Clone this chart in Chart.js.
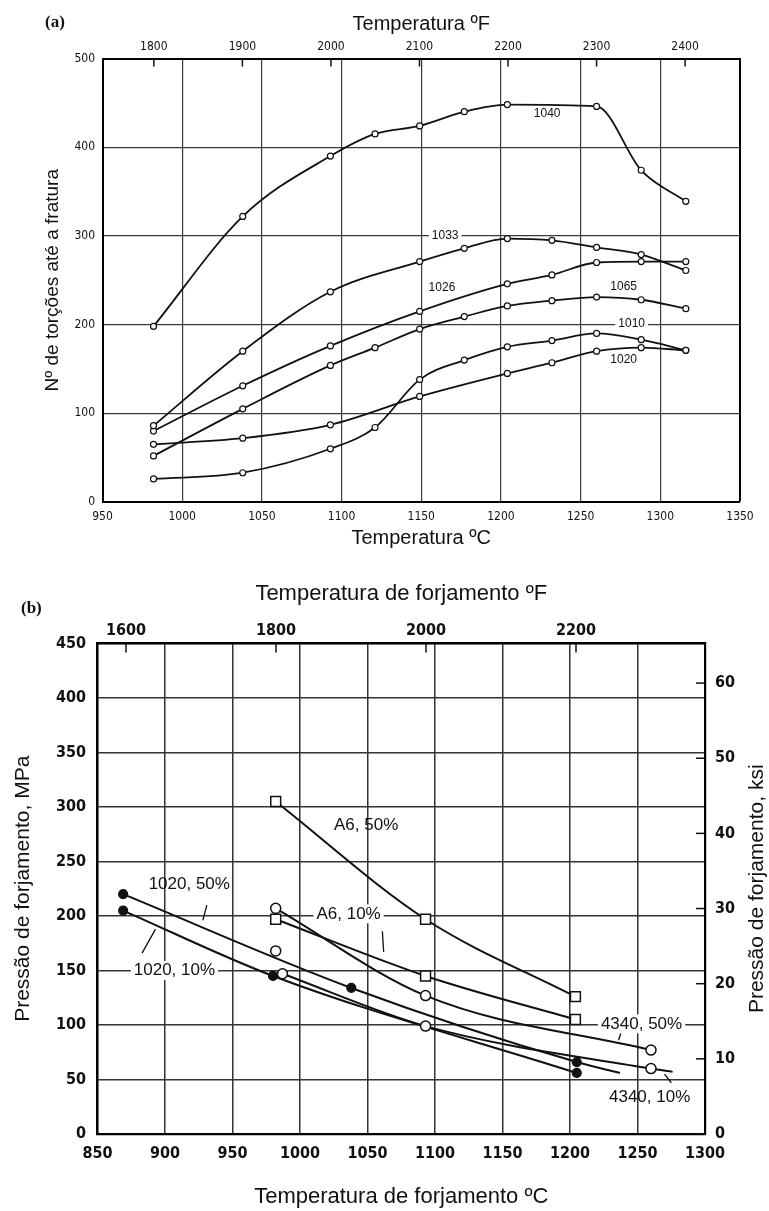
<!DOCTYPE html>
<html lang="pt">
<head>
<meta charset="utf-8">
<title>Torções até a fratura e pressão de forjamento</title>
<script src="https://cdn.jsdelivr.net/npm/chart.js@4.4.1/dist/chart.umd.min.js"></script>
<style>
  body { margin: 0; background: #fff; }
  #page { position: relative; width: 769px; height: 1211px; overflow: hidden; background: #fff; }
  canvas { position: absolute; left: 0; }
  #chartA { top: 0; }
  #chartB { top: 575px; }
  .tag { position: absolute; font: bold 17px 'Liberation Serif', 'DejaVu Serif', serif; color: #111; }
</style>
</head>
<body>
<div id="page">
  <canvas id="chartA" width="769" height="575"></canvas>
  <canvas id="chartB" width="769" height="636"></canvas>
  <div class="tag" style="left:45px; top:12px;">(a)</div>
  <div class="tag" style="left:21px; top:598px;">(b)</div>
</div>
<script>
// ---- (a) torções até a fratura x temperatura (ºC) ----
var t1040 = [982, 1038, 1093, 1121, 1149, 1177, 1204, 1260, 1288, 1316];
var v1040 = [198, 322, 390, 415, 424, 440, 448, 446, 374, 339];
var t1033 = [982, 1038, 1093, 1149, 1177, 1204, 1232, 1260, 1288, 1316];
var v1033 = [86, 170, 237, 271, 286, 297, 295, 287, 279, 261];
var t1026 = [982, 1038, 1093, 1149, 1204, 1232, 1260, 1288, 1316];
var v1026 = [80, 131, 176, 215, 246, 256, 270, 271, 271];
var t1065 = [982, 1038, 1093, 1121, 1149, 1177, 1204, 1232, 1260, 1288, 1316];
var v1065 = [52, 105, 154, 174, 195, 209, 221, 227, 231, 228, 218];
var t1010 = [982, 1038, 1093, 1121, 1149, 1177, 1204, 1232, 1260, 1288, 1316];
var v1010 = [26, 33, 60, 84, 138, 160, 175, 182, 190, 183, 171];
var t1020 = [982, 1038, 1093, 1149, 1204, 1232, 1260, 1288, 1316];
var v1020 = [65, 72, 87, 119, 145, 157, 170, 174, 171];
var ticksFA = [1800, 1900, 2000, 2100, 2200, 2300, 2400];

// ---- (b) pressão de forjamento (MPa) x temperatura (ºC) ----
var tA6_50 = [982, 1093, 1204];
var pA6_50 = [305, 197, 126];
var tA6_10 = [982, 1093, 1204];
var pA6_10 = [197, 145, 105];
var t4340_50 = [982, 1093, 1260];
var p4340_50 = [207, 127, 77];
var t4340_10 = [987, 1093, 1260, 1276];
var p4340_10 = [147, 99, 60, 57];
var t1020_50 = [869, 1038, 1205, 1237];
var p1020_50 = [220, 134, 66, 56];
var t1020_10 = [869, 980, 1205];
var p1020_10 = [205, 145, 56];
var tSolto = [982];
var pSolto = [168];
var ticksFB = [1600, 1800, 2000, 2200];
var ticksKsi = [0, 10, 20, 30, 40, 50, 60];

var INK = '#111';
var NARROW = "'Liberation Sans Narrow', 'DejaVu Sans Condensed', 'Liberation Sans', sans-serif";
var SANS = "'Liberation Sans', Arial, sans-serif";

function pts(ts, vs) {
  return ts.map(function(t, i) { return { x: t, y: vs[i] }; });
}

function curve(label, ts, vs, extra) {
  var ds = {
    label: label,
    data: pts(ts, vs),
    borderColor: INK,
    borderWidth: 1.8,
    pointBackgroundColor: '#fff',
    pointBorderColor: INK,
    pointBorderWidth: 1.2,
    pointRadius: 3,
    cubicInterpolationMode: 'monotone',
    fill: false
  };
  for (var k in extra) ds[k] = extra[k];
  return ds;
}

// rótulos das curvas, desenhados sobre as escalas do gráfico
var curveLabels = {
  id: 'curveLabels',
  afterDatasetsDraw: function(chart, args, opts) {
    var ctx = chart.ctx, xs = chart.scales.x, ys = chart.scales.y;
    ctx.save();
    ctx.strokeStyle = INK;
    ctx.lineWidth = 1.3;
    (opts.leaders || []).forEach(function(l) {
      ctx.beginPath();
      ctx.moveTo(xs.getPixelForValue(l[0]), ys.getPixelForValue(l[1]));
      ctx.lineTo(xs.getPixelForValue(l[2]), ys.getPixelForValue(l[3]));
      ctx.stroke();
    });
    ctx.font = opts.font;
    ctx.textAlign = 'center';
    ctx.textBaseline = 'middle';
    opts.items.forEach(function(it) {
      var px = xs.getPixelForValue(it.x), py = ys.getPixelForValue(it.y);
      if (it.bg) {
        var w = ctx.measureText(it.text).width + 6;
        ctx.fillStyle = '#fff';
        ctx.fillRect(px - w / 2, py - opts.size / 2 - 1, w, opts.size + 2);
      }
      ctx.fillStyle = INK;
      ctx.fillText(it.text, px, py);
    });
    ctx.restore();
  }
};

// marcas das escalas secundárias voltadas para dentro + título da direita
var frameExtras = {
  id: 'frameExtras',
  afterDraw: function(chart, args, opts) {
    var ctx = chart.ctx, area = chart.chartArea;
    ctx.save();
    ctx.strokeStyle = INK;
    ctx.lineWidth = 1.5;
    if (opts.top) {
      var st = chart.scales[opts.top];
      st.ticks.forEach(function(t) {
        var px = st.getPixelForValue(t.value);
        ctx.beginPath();
        ctx.moveTo(px, area.top);
        ctx.lineTo(px, area.top + opts.len);
        ctx.stroke();
      });
    }
    if (opts.right) {
      var sr = chart.scales[opts.right];
      sr.ticks.forEach(function(t) {
        var py = sr.getPixelForValue(t.value);
        ctx.beginPath();
        ctx.moveTo(area.right, py);
        ctx.lineTo(area.right - opts.len, py);
        ctx.stroke();
      });
    }
    if (opts.rightTitle) {
      ctx.translate(opts.rightTitle.x, (area.top + area.bottom) / 2);
      ctx.rotate(-Math.PI / 2);
      ctx.font = opts.rightTitle.font;
      ctx.fillStyle = INK;
      ctx.textAlign = 'center';
      ctx.textBaseline = 'middle';
      ctx.fillText(opts.rightTitle.text, 0, 0);
    }
    ctx.restore();
  }
};

function plain(v) { return String(v); }

// ================= (a) =================
new Chart(document.getElementById('chartA'), {
  type: 'line',
  data: {
    datasets: [
      curve('1040', t1040, v1040),
      curve('1033', t1033, v1033),
      curve('1026', t1026, v1026),
      curve('1065', t1065, v1065),
      curve('1010', t1010, v1010),
      curve('1020', t1020, v1020)
    ]
  },
  options: {
    responsive: false,
    animation: false,
    events: [],
    layout: { padding: { right: 29 } },
    plugins: {
      legend: { display: false },
      tooltip: { enabled: false },
      curveLabels: {
        font: '12px ' + SANS,
        size: 12,
        items: [
          { text: '1040', x: 1229, y: 438 },
          { text: '1033', x: 1165, y: 300, bg: true },
          { text: '1026', x: 1163, y: 242 },
          { text: '1065', x: 1277, y: 243 },
          { text: '1010', x: 1282, y: 201, bg: true },
          { text: '1020', x: 1277, y: 161 }
        ]
      },
      frameExtras: { top: 'xF', len: 8 }
    },
    scales: {
      x: {
        type: 'linear', position: 'bottom', min: 950, max: 1350,
        ticks: { stepSize: 50, padding: 8, autoSkip: false, maxRotation: 0, color: INK,
                 font: { family: NARROW, size: 12 }, callback: plain },
        grid: { drawTicks: false,
                color: function(c) { return c.tick && c.tick.value === 1350 ? '#000' : '#3a3a3a'; },
                lineWidth: function(c) { return c.tick && c.tick.value === 1350 ? 2 : 1.2; } },
        border: { color: '#000', width: 2 },
        title: { display: true, text: 'Temperatura ºC', color: INK,
                 font: { family: SANS, size: 20 }, padding: { top: 0, bottom: 25 } },
        afterFit: function(s) { s.height = 73; }
      },
      xF: {
        type: 'linear', position: 'top', min: 950 * 1.8 + 32, max: 1350 * 1.8 + 32,
        afterBuildTicks: function(s) { s.ticks = ticksFA.map(function(v) { return { value: v }; }); },
        ticks: { padding: 4.5, autoSkip: false, maxRotation: 0, color: INK,
                 font: { family: NARROW, size: 12 }, callback: plain },
        grid: { drawOnChartArea: false, drawTicks: false },
        border: { color: '#000', width: 2 },
        title: { display: true, text: 'Temperatura ºF', color: INK,
                 font: { family: SANS, size: 20 }, padding: { top: 12, bottom: 0 } },
        afterFit: function(s) { s.height = 58.5; }
      },
      y: {
        type: 'linear', min: 0, max: 500,
        ticks: { stepSize: 100, padding: 7.5, color: INK,
                 font: { family: NARROW, size: 12 }, callback: plain },
        grid: { drawTicks: false, color: '#3a3a3a', lineWidth: 1.2 },
        border: { color: '#000', width: 2 },
        title: { display: true, text: 'Nº de torções até a fratura', color: INK,
                 font: { family: SANS, size: 19 }, padding: { top: 41, bottom: 0 } },
        afterFit: function(s) { s.width = 102.5; }
      }
    }
  },
  plugins: [curveLabels, frameExtras]
});

// ================= (b) =================
var openSq = { pointStyle: 'rect', pointRadius: 7, pointBorderWidth: 1.5, borderWidth: 2 };
var openCi = { pointRadius: 5, pointBorderWidth: 1.5, borderWidth: 2 };
var solidCi = { pointRadius: 4.5, pointBackgroundColor: INK, borderWidth: 2 };
var tickFontB = { family: NARROW, size: 16, weight: 'bold' };

new Chart(document.getElementById('chartB'), {
  type: 'line',
  data: {
    datasets: [
      curve('A6, 50%', tA6_50, pA6_50, openSq),
      curve('A6, 10%', tA6_10, pA6_10, openSq),
      curve('4340, 50%', t4340_50, p4340_50, openCi),
      curve('4340, 10%', t4340_10, p4340_10,
            { pointRadius: [5, 5, 5, 0], pointBorderWidth: 1.5, borderWidth: 2 }),
      curve('1020, 50%', t1020_50, p1020_50,
            { pointRadius: [4.5, 4.5, 4.5, 0], pointBackgroundColor: INK, borderWidth: 2 }),
      curve('1020, 10%', t1020_10, p1020_10, solidCi),
      curve('ponto', tSolto, pSolto, { showLine: false, pointRadius: 5, pointBorderWidth: 1.5 })
    ]
  },
  options: {
    responsive: false,
    animation: false,
    events: [],
    layout: { padding: 0 },
    plugins: {
      legend: { display: false },
      tooltip: { enabled: false },
      curveLabels: {
        font: '17px ' + SANS,
        size: 17,
        items: [
          { text: 'A6, 50%', x: 1049, y: 283 },
          { text: 'A6, 10%', x: 1036, y: 202, bg: true },
          { text: '1020, 50%', x: 918, y: 229 },
          { text: '1020, 10%', x: 907, y: 150, bg: true },
          { text: '4340, 50%', x: 1253, y: 101, bg: true },
          { text: '4340, 10%', x: 1259, y: 34 }
        ],
        leaders: [
          [1061, 186, 1062, 167],
          [931, 210, 928, 196],
          [893, 188, 883, 166],
          [1238, 94, 1236, 86],
          [1270, 55, 1275, 47]
        ]
      },
      frameExtras: {
        top: 'xF', right: 'yK', len: 9,
        rightTitle: { text: 'Pressão de forjamento, ksi', x: 757, font: '21px ' + SANS }
      }
    },
    scales: {
      x: {
        type: 'linear', position: 'bottom', min: 850, max: 1300,
        ticks: { stepSize: 50, padding: 10, autoSkip: false, maxRotation: 0, color: INK,
                 font: tickFontB, callback: plain },
        grid: { drawTicks: false, color: '#333', lineWidth: 1.5 },
        border: { color: '#000', width: 2.2 },
        title: { display: true, text: 'Temperatura de forjamento ºC', color: INK,
                 font: { family: SANS, size: 22 }, padding: { top: 0, bottom: 1 } },
        afterFit: function(s) { s.height = 77; }
      },
      xF: {
        type: 'linear', position: 'top', min: 850 * 1.8 + 32, max: 1300 * 1.8 + 32,
        afterBuildTicks: function(s) { s.ticks = ticksFB.map(function(v) { return { value: v }; }); },
        ticks: { padding: 3.5, autoSkip: false, maxRotation: 0, color: INK,
                 font: tickFontB, callback: plain },
        grid: { drawOnChartArea: false, drawTicks: false },
        border: { color: '#000', width: 2.2 },
        title: { display: true, text: 'Temperatura de forjamento ºF', color: INK,
                 font: { family: SANS, size: 22 }, padding: { top: 6, bottom: 0 } },
        afterFit: function(s) { s.height = 68.5; }
      },
      y: {
        type: 'linear', position: 'left', min: 0, max: 450,
        ticks: { stepSize: 50, padding: 11.5, color: INK, font: tickFontB, callback: plain },
        grid: { drawTicks: false, color: '#333', lineWidth: 1.5 },
        border: { color: '#000', width: 2.2 },
        title: { display: true, text: 'Pressão de forjamento, MPa', color: INK,
                 font: { family: SANS, size: 21 }, padding: { top: 11, bottom: 0 } },
        afterFit: function(s) { s.width = 97.5; }
      },
      yK: {
        type: 'linear', position: 'right', min: 0, max: 450 / 6.894757,
        afterBuildTicks: function(s) { s.ticks = ticksKsi.map(function(v) { return { value: v }; }); },
        ticks: { padding: 10, color: INK, font: tickFontB, callback: plain },
        grid: { drawOnChartArea: false, drawTicks: false },
        border: { color: '#000', width: 2.2 },
        afterFit: function(s) { s.width = 64; }
      }
    }
  },
  plugins: [curveLabels, frameExtras]
});
</script>
</body>
</html>
